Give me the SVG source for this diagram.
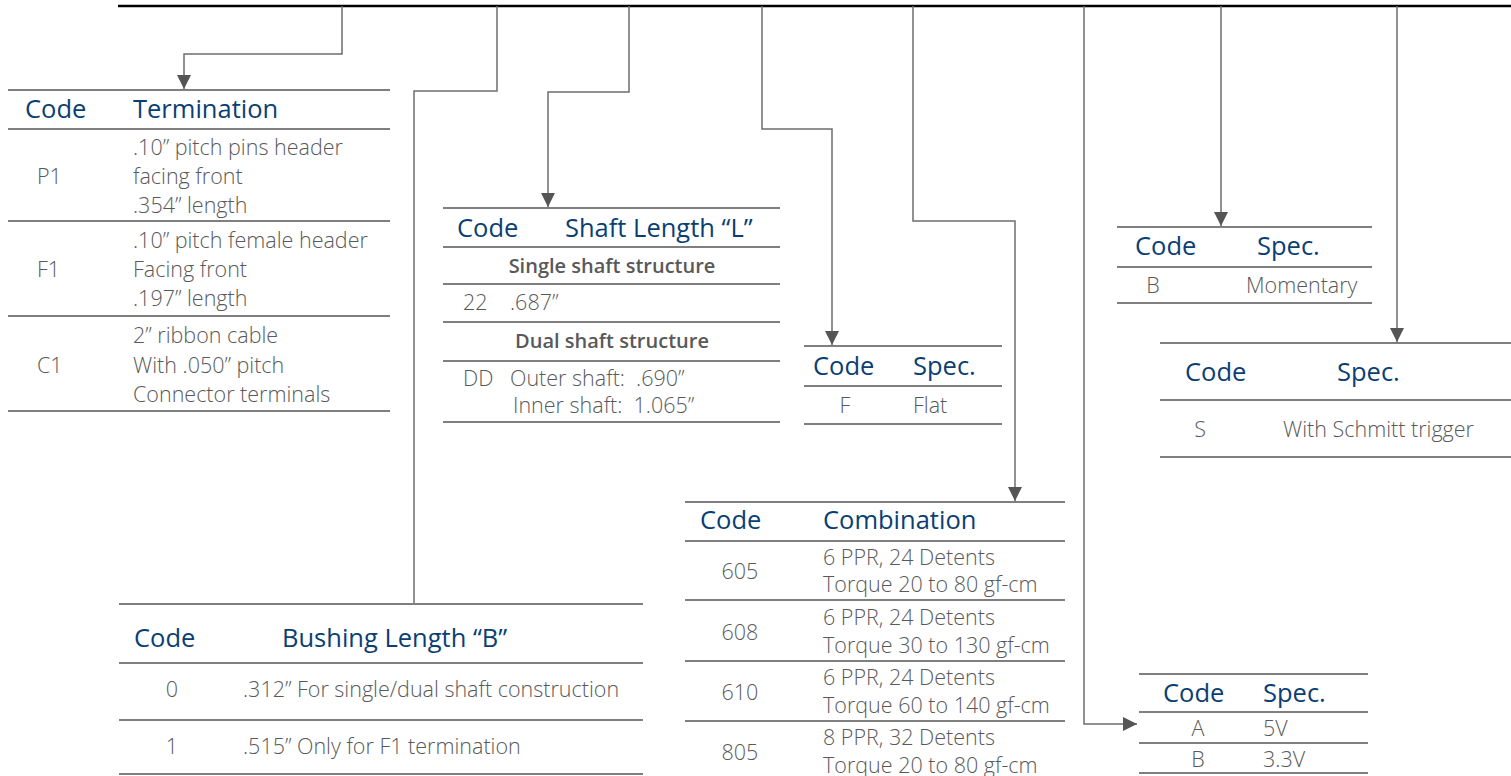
<svg xmlns="http://www.w3.org/2000/svg" width="1511" height="776" viewBox="0 0 1511 776">
<style>
.hd{font-family:"Open Sans","Liberation Sans",sans-serif;font-size:25.5px;fill:#0b3f73;}
.tx{font-family:"Open Sans","Liberation Sans",sans-serif;font-weight:300;font-size:21.5px;fill:#595959;}
.tb{font-family:"Open Sans","Liberation Sans",sans-serif;font-weight:600;font-size:20px;fill:#595959;}
.ln{stroke:#7f7f7f;stroke-width:2;fill:none;}
.cn{stroke:#6d6d6d;stroke-width:1.5;fill:none;}
.mid{text-anchor:middle;}
</style>
<defs>
<marker id="ah" markerUnits="userSpaceOnUse" markerWidth="14" markerHeight="16" viewBox="0 0 14 16" refX="14" refY="7" orient="auto">
<path d="M0,0 L14,7 L0,14 Z" fill="#555555"/>
</marker>
</defs>
<rect width="1511" height="776" fill="#ffffff"/>
<g id="connectors">
<line x1="118" y1="6" x2="1511" y2="6" stroke="#000" stroke-width="2.5"/>
<polyline class="cn" points="342,6 342,54 184,54 184,89" marker-end="url(#ah)"/>
<polyline class="cn" points="497,6 497,91 414,91 414,604"/>
<polyline class="cn" points="629,6 629,92 548,92 548,207" marker-end="url(#ah)"/>
<polyline class="cn" points="762,6 762,129 832,129 832,345" marker-end="url(#ah)"/>
<polyline class="cn" points="913,6 913,221 1015,221 1015,501" marker-end="url(#ah)"/>
<polyline class="cn" points="1084,6 1084,724 1137,724" marker-end="url(#ah)"/>
<polyline class="cn" points="1221,6 1221,226" marker-end="url(#ah)"/>
<polyline class="cn" points="1397,6 1397,342" marker-end="url(#ah)"/>
</g>
<g id="termination">
<line class="ln" x1="8" y1="90" x2="390" y2="90"/>
<text class="hd" x="25" y="118">Code</text>
<text class="hd" x="133" y="118">Termination</text>
<line class="ln" x1="8" y1="129" x2="390" y2="129"/>
<text class="tx" x="37" y="184">P1</text>
<text class="tx" x="133" y="155">.10” pitch pins header</text>
<text class="tx" x="133" y="184">facing front</text>
<text class="tx" x="133" y="213">.354” length</text>
<line class="ln" x1="8" y1="221" x2="390" y2="221"/>
<text class="tx" x="37" y="277">F1</text>
<text class="tx" x="133" y="248">.10” pitch female header</text>
<text class="tx" x="133" y="277">Facing front</text>
<text class="tx" x="133" y="306">.197” length</text>
<line class="ln" x1="8" y1="316" x2="390" y2="316"/>
<text class="tx" x="37" y="373">C1</text>
<text class="tx" x="133" y="343">2” ribbon cable</text>
<text class="tx" x="133" y="373">With .050” pitch</text>
<text class="tx" x="133" y="402">Connector terminals</text>
<line class="ln" x1="8" y1="411" x2="390" y2="411"/>
</g>
<g id="shaft">
<line class="ln" x1="443" y1="208" x2="780" y2="208"/>
<text class="hd" x="457" y="237">Code</text>
<text class="hd" x="565" y="237">Shaft Length “L”</text>
<line class="ln" x1="443" y1="247" x2="780" y2="247"/>
<text class="tb mid" x="612" y="273">Single shaft structure</text>
<line class="ln" x1="443" y1="284" x2="780" y2="284"/>
<text class="tx" x="463" y="310">22</text>
<text class="tx" x="510" y="310">.687”</text>
<line class="ln" x1="443" y1="322" x2="780" y2="322"/>
<text class="tb mid" x="612" y="348">Dual shaft structure</text>
<line class="ln" x1="443" y1="361" x2="780" y2="361"/>
<text class="tx" x="463" y="386">DD</text>
<text class="tx" x="510" y="386" xml:space="preserve">Outer shaft:  .690”</text>
<text class="tx" x="513" y="413" xml:space="preserve">Inner shaft:  1.065”</text>
<line class="ln" x1="443" y1="422" x2="780" y2="422"/>
</g>
<g id="flat">
<line class="ln" x1="804" y1="346" x2="1002" y2="346"/>
<text class="hd" x="813" y="375">Code</text>
<text class="hd" x="913" y="375">Spec.</text>
<line class="ln" x1="804" y1="386" x2="1002" y2="386"/>
<text class="tx mid" x="845" y="413">F</text>
<text class="tx" x="913" y="413">Flat</text>
<line class="ln" x1="804" y1="424" x2="1002" y2="424"/>
</g>
<g id="momentary">
<line class="ln" x1="1117" y1="227" x2="1372" y2="227"/>
<text class="hd" x="1135" y="255">Code</text>
<text class="hd" x="1257" y="255">Spec.</text>
<line class="ln" x1="1117" y1="267" x2="1372" y2="267"/>
<text class="tx mid" x="1153" y="293">B</text>
<text class="tx" x="1246" y="293">Momentary</text>
<line class="ln" x1="1117" y1="303" x2="1372" y2="303"/>
</g>
<g id="schmitt">
<line class="ln" x1="1160" y1="343" x2="1511" y2="343"/>
<text class="hd" x="1185" y="381">Code</text>
<text class="hd" x="1337" y="381">Spec.</text>
<line class="ln" x1="1160" y1="400" x2="1511" y2="400"/>
<text class="tx mid" x="1200" y="437">S</text>
<text class="tx" x="1283" y="437">With Schmitt trigger</text>
<line class="ln" x1="1160" y1="457" x2="1511" y2="457"/>
</g>
<g id="combination">
<line class="ln" x1="685" y1="502" x2="1065" y2="502"/>
<text class="hd" x="700" y="529">Code</text>
<text class="hd" x="823" y="529">Combination</text>
<line class="ln" x1="685" y1="541" x2="1065" y2="541"/>
<text class="tx mid" x="740" y="579">605</text>
<text class="tx" x="823" y="565">6 PPR, 24 Detents</text>
<text class="tx" x="823" y="592">Torque 20 to 80 gf-cm</text>
<line class="ln" x1="685" y1="600" x2="1065" y2="600"/>
<text class="tx mid" x="740" y="640">608</text>
<text class="tx" x="823" y="625">6 PPR, 24 Detents</text>
<text class="tx" x="823" y="653">Torque 30 to 130 gf-cm</text>
<line class="ln" x1="685" y1="661" x2="1065" y2="661"/>
<text class="tx mid" x="740" y="700">610</text>
<text class="tx" x="823" y="685">6 PPR, 24 Detents</text>
<text class="tx" x="823" y="713">Torque 60 to 140 gf-cm</text>
<line class="ln" x1="685" y1="721" x2="1065" y2="721"/>
<text class="tx mid" x="740" y="760">805</text>
<text class="tx" x="823" y="745">8 PPR, 32 Detents</text>
<text class="tx" x="823" y="773">Torque 20 to 80 gf-cm</text>
</g>
<g id="bushing">
<line class="ln" x1="119" y1="604" x2="643" y2="604"/>
<text class="hd" x="134" y="647">Code</text>
<text class="hd" x="282" y="647">Bushing Length “B”</text>
<line class="ln" x1="119" y1="663" x2="643" y2="663"/>
<text class="tx mid" x="172" y="697">0</text>
<text class="tx" x="243" y="697">.312” For single/dual shaft construction</text>
<line class="ln" x1="119" y1="720" x2="643" y2="720"/>
<text class="tx mid" x="172" y="754">1</text>
<text class="tx" x="243" y="754">.515” Only for F1 termination</text>
<line class="ln" x1="119" y1="774" x2="643" y2="774"/>
</g>
<g id="voltage">
<line class="ln" x1="1139" y1="674" x2="1368" y2="674"/>
<text class="hd" x="1163" y="702">Code</text>
<text class="hd" x="1263" y="702">Spec.</text>
<line class="ln" x1="1139" y1="712" x2="1368" y2="712"/>
<text class="tx mid" x="1198" y="736">A</text>
<text class="tx" x="1263" y="736">5V</text>
<line class="ln" x1="1139" y1="743" x2="1368" y2="743"/>
<text class="tx mid" x="1198" y="767">B</text>
<text class="tx" x="1263" y="767">3.3V</text>
<line class="ln" x1="1139" y1="773" x2="1368" y2="773"/>
</g>
</svg>
